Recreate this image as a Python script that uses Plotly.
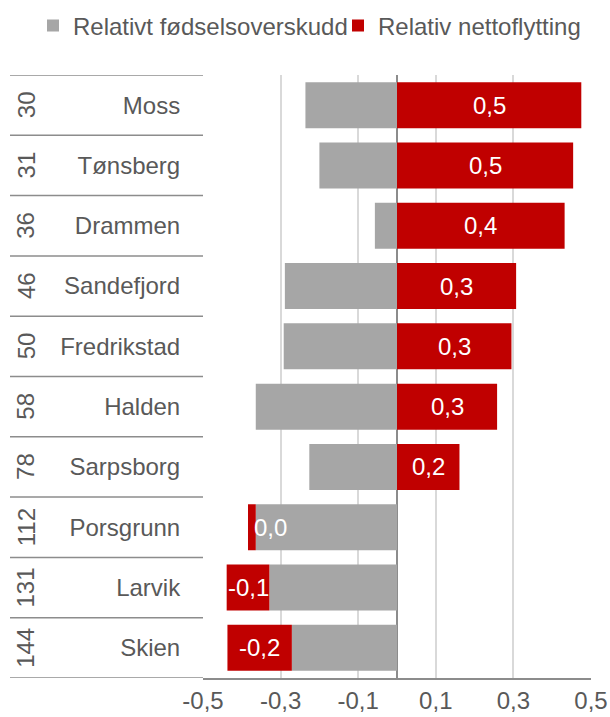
import plotly.graph_objects as go

cities = ["Moss", "Tønsberg", "Drammen", "Sandefjord", "Fredrikstad",
          "Halden", "Sarpsborg", "Porsgrunn", "Larvik", "Skien"]
ranks = ["30", "31", "36", "46", "50", "58", "78", "112", "131", "144"]
birth_surplus = [-0.236, -0.200, -0.057, -0.289, -0.292, -0.364, -0.226, -0.364, -0.329, -0.271]
net_migration = [0.475, 0.454, 0.432, 0.307, 0.295, 0.258, 0.161, -0.020, -0.110, -0.166]
tick_vals = [-0.5, -0.3, -0.1, 0.1, 0.3, 0.5]

FONT = "Liberation Sans, Arial, sans-serif"
TXT = "#595959"
GRAY = "#a6a6a6"
RED = "#c00000"

def fmt(v):
    s = f"{v:.1f}"
    if s == "-0.0":
        s = "0.0"
    return s.replace(".", ",")

idx = list(range(len(cities)))

fig = go.Figure()
fig.add_trace(go.Bar(y=idx, x=birth_surplus, orientation="h", name="Relativt fødselsoverskudd",
                     marker=dict(color=GRAY, line=dict(width=0)), legend="legend"))
fig.add_trace(go.Bar(y=idx, x=net_migration, orientation="h", name="Relativ nettoflytting",
                     marker=dict(color=RED, line=dict(width=0)), legend="legend2"))

annotations = []
for i, (b, n) in enumerate(zip(birth_surplus, net_migration)):
    if n >= 0:
        c = n / 2
    else:
        c = (b if b < 0 else 0) + n / 2
    anchor = "left" if abs(n) < 0.05 else "center"
    annotations.append(dict(x=c, y=i, xref="x", yref="y", text=fmt(n), showarrow=False,
                            xanchor=anchor, yanchor="middle",
                            font=dict(family=FONT, size=24, color="white")))

# rank labels (rotated)
x_left = (10 - 203) / 388
for i, r in enumerate(ranks):
    annotations.append(dict(x=(26 - 203) / 388, y=i, xref="paper", yref="y", text=r,
                            showarrow=False, textangle=-90, xanchor="center", yanchor="middle",
                            font=dict(family=FONT, size=24, color=TXT)))

shapes = []
for k in range(len(cities) + 1):
    shapes.append(dict(type="line", xref="paper", yref="y", x0=x_left, x1=0,
                       y0=k - 0.5, y1=k - 0.5, line=dict(color="#8c8c8c", width=1.5)))

legend_common = dict(orientation="h", xref="container", yref="container", y=1 - 26 / 717,
                     xanchor="left", yanchor="middle", itemwidth=30,
                     font=dict(family=FONT, size=24, color=TXT), bgcolor="rgba(0,0,0,0)")

fig.update_layout(
    width=610, height=717,
    margin=dict(l=203, r=19, t=75, b=39, autoexpand=False),
    barmode="relative", bargap=0.237,
    plot_bgcolor="white", paper_bgcolor="white",
    font=dict(family=FONT, size=24, color=TXT),
    showlegend=True,
    legend=dict(x=33 / 610, **legend_common),
    legend2=dict(x=338 / 610, **legend_common),
    xaxis=dict(range=[-0.5, 0.5], tickvals=tick_vals, ticktext=[fmt(v) for v in tick_vals],
               showgrid=True, gridcolor="#d9d9d9", gridwidth=1.5,
               zeroline=True, zerolinecolor="#8c8c8c", zerolinewidth=1.5,
               showline=True, linecolor="#8c8c8c", linewidth=1.5, automargin=False,
               ticks="", tickfont=dict(family=FONT, size=24, color=TXT), fixedrange=True),
    yaxis=dict(tickvals=idx, ticktext=cities, range=[len(cities) - 0.5, -0.5],
               showgrid=False, zeroline=False, showline=False, automargin=False,
               ticks="outside", ticklen=17, tickcolor="rgba(0,0,0,0)",
               tickfont=dict(family=FONT, size=24, color=TXT), fixedrange=True),
    annotations=annotations, shapes=shapes,
)

fig.write_html("out.html", config={"displayModeBar": False},
               post_script="document.body.style.margin='0';document.body.style.overflow='hidden';")
